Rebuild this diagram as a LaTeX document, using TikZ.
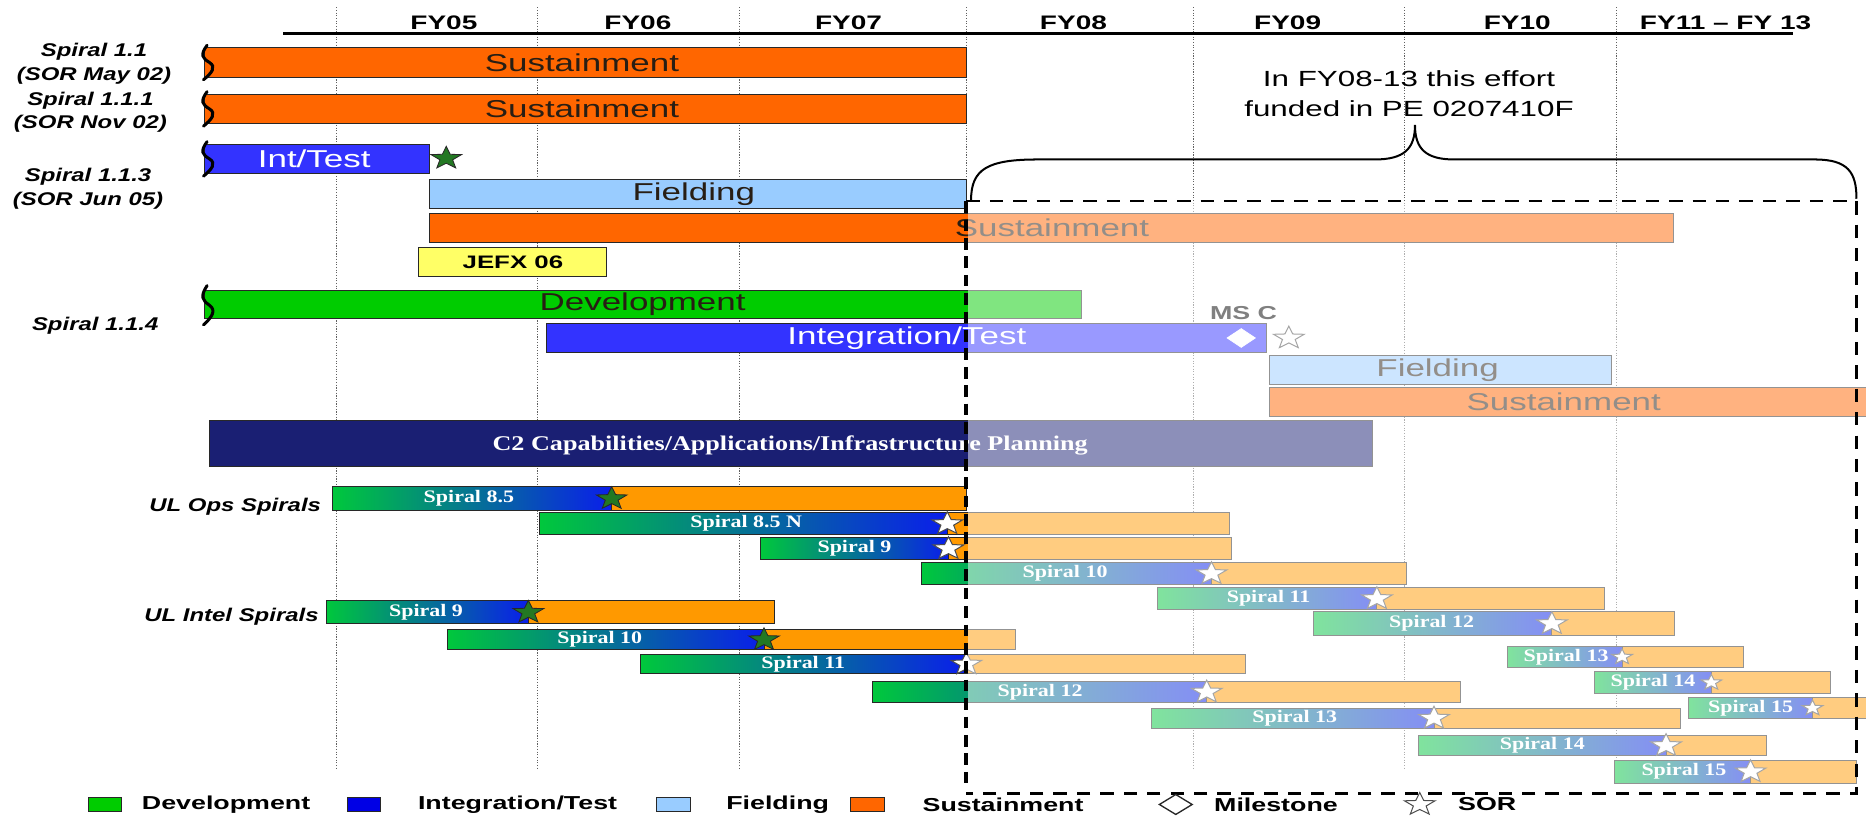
\documentclass[tikz,border=0pt]{standalone}
\usepackage{fontspec}
\setmainfont{Liberation Sans}[FakeStretch=1.43]
\newfontfamily\tnr{Liberation Serif}[FakeStretch=1.25]
\newfontfamily\lab{Liberation Sans}[FakeStretch=1.3]
\usetikzlibrary{shapes.geometric}

\definecolor{sus}{RGB}{255,102,0}
\definecolor{sor}{RGB}{255,153,0}
\definecolor{itb}{RGB}{51,51,255}
\definecolor{fld}{RGB}{153,204,255}
\definecolor{dev}{RGB}{0,204,0}
\definecolor{jef}{RGB}{255,255,102}
\definecolor{nav}{RGB}{26,31,115}
\definecolor{gL}{RGB}{0,200,60}
\definecolor{gR}{RGB}{10,30,235}
\definecolor{stg}{RGB}{35,120,35}
\definecolor{bln}{RGB}{40,40,40}
\definecolor{txd}{RGB}{40,30,20}

\tikzset{
 barbox/.style={draw=bln, line width=0.6pt},
 bartext/.style={font=\fontsize{14.6}{16}\selectfont, inner sep=0pt},
 fylab/.style={font=\bfseries\fontsize{11.7}{13}\selectfont, inner sep=0pt},
 leftlab/.style={font=\lab\bfseries\itshape\fontsize{11}{14}\selectfont, align=center, inner sep=0pt},
 spl/.style={font=\tnr\bfseries\fontsize{10.5}{12}\selectfont, text=white, inner sep=0pt},
 gstar/.style={star, star points=5, star point ratio=2.4, fill=stg, draw=bln, line width=0.5pt, minimum size=0.5cm, inner sep=0pt},
 wstar/.style={star, star points=5, star point ratio=2.4, fill=white, draw=gray!60!black, line width=0.6pt, minimum size=0.5cm, inner sep=0pt},
 gridln/.style={gray!75!black, line width=0.6pt, dash pattern=on 0.7pt off 0.9pt},
 squig/.style={line width=1.8pt, line cap=round},
 legtext/.style={font=\bfseries\fontsize{11.2}{13}\selectfont, anchor=west, inner sep=0pt},
 legbox/.style={draw=bln, line width=0.6pt, minimum width=0.7cm, minimum height=0.275cm, inner sep=0pt},
 dbox/.style={line width=1.6pt, dash pattern=on 8pt off 6pt},
 dvert/.style={line width=2.2pt, dash pattern=on 7pt off 4pt},
 bracepath/.style={line width=1.2pt},
}

\newcommand{\starat}[4]{\begin{scope}[shift={(#1,#2)}]\node[#3, xscale=1.35, transform shape] (#4) at (0,0) {};\end{scope}}
\newcommand{\squigat}[2]{\draw[squig] (174,{#1-2}) .. controls (168,{#1+0.25*(#2-#1)}) and (170,{#1+0.35*(#2-#1)}) .. (176,{#1+0.5*(#2-#1)}) .. controls (182,{#1+0.65*(#2-#1)}) and (178,{#1+0.85*(#2-#1)}) .. (171,{#2+2});}
\newcommand{\srow}[9]{%
 \draw[barbox, left color=gL, right color=gR] (#4,#2) rectangle (#5,#3);
 \draw[barbox, fill=sor] (#5,#2) rectangle (#6,#3);
 \node[spl] (#1) at (#7,{(#2+#3)/2}) {#8};
 \starat{#5}{{(#2+#3)/2}}{#9}{#1s}%
}

\begin{document}
\begin{tikzpicture}[x=0.025cm, y=-0.025cm]
\useasboundingbox (0,0) rectangle (1568,687);

% grid lines
\foreach \gx in {283,452,621,1003,1180,1358} \draw[gridln] (\gx,6) -- (\gx,647);
\draw[gridln] (812,6) -- (812,169);

% header
\draw[line width=1.8pt] (238,28) -- (1507,28);
\node[fylab] (fy05) at (373,19) {FY05};
\node[fylab] (fy06) at (536,19) {FY06};
\node[fylab] (fy07) at (713,19) {FY07};
\node[fylab] (fy08) at (902,19) {FY08};
\node[fylab] (fy09) at (1082,19) {FY09};
\node[fylab] (fy10) at (1275,19) {FY10};
\node[fylab] (fy11) at (1450,19) {FY11 -- FY 13};

% left labels
\node[leftlab] (l11) at (79,53.5) {Spiral 1.1\\(SOR May 02)};
\node[leftlab] (l111) at (76,94.5) {Spiral 1.1.1\\(SOR Nov 02)};
\node[leftlab] (l113) at (74,158.5) {Spiral 1.1.3\\(SOR Jun 05)};
\node[leftlab] (l114) at (80,274) {Spiral 1.1.4};
\node[leftlab, anchor=east] (lops) at (270,426) {UL Ops Spirals};
\node[leftlab, anchor=east] (lint) at (268,518) {UL Intel Spirals};

% top bars
\draw[barbox, fill=sus] (172,40) rectangle (812,65);
\node[bartext, text=txd] (s1) at (489,52.5) {Sustainment};
\squigat{40}{65}
\draw[barbox, fill=sus] (172,79) rectangle (812,104);
\node[bartext, text=txd] (s2) at (489,91.5) {Sustainment};
\squigat{79}{104}
\draw[barbox, fill=itb] (172,121) rectangle (361,146);
\node[bartext, text=white] (it1) at (264,133.5) {Int/Test};
\squigat{121}{146}
\starat{375}{133}{gstar}{it1s}

\draw[barbox, fill=fld] (361,151) rectangle (812,175);
\node[bartext, text=txd] (f1) at (583,163) {Fielding};
\draw[barbox, fill=sus] (361,179) rectangle (1406,204);
\node[bartext, text=txd] (s3) at (884,191.5) {Sustainment};
\draw[barbox, fill=jef] (352,208) rectangle (510,232);
\node[font=\bfseries\fontsize{10.8}{12}\selectfont, inner sep=0pt] (jefx) at (431,220) {JEFX 06};

\draw[barbox, fill=dev] (172,244) rectangle (909,268);
\node[bartext, text=txd] (dv) at (540,256) {Development};
\squigat{242}{271}
\draw[barbox, fill=itb] (459,272) rectangle (1064,296);
\node[bartext, text=white] (it2) at (762,284) {Integration/Test};
\node[diamond, fill=white, draw=white, minimum width=0.6cm, minimum height=0.4cm, inner sep=0pt] (msd) at (1043,284) {};
\node[font=\bfseries\fontsize{11.2}{13}\selectfont, inner sep=0pt] (msc) at (1045,263) {MS C};
\starat{1083}{284}{wstar}{mss}
\draw[barbox, fill=fld] (1067,299) rectangle (1354,323);
\node[bartext, text=txd] (f2) at (1208,311) {Fielding};
\draw[barbox, fill=sus] (1067,326) rectangle (1572,350);
\node[bartext, text=txd] (s4) at (1314,338) {Sustainment};

\draw[barbox, fill=nav] (176,353) rectangle (1153,392);
\node[font=\tnr\bfseries\fontsize{12.5}{14}\selectfont, text=white, inner sep=0pt] (c2) at (664,374) {C2 Capabilities/Applications/Infrastructure Planning};

% spiral rows
\srow{o1}{409}{429}{279}{514}{812}{394}{Spiral 8.5}{gstar}
\srow{o2}{431}{449}{453}{796}{1033}{627}{Spiral 8.5 N}{wstar}
\srow{o3}{452}{470}{639}{797}{1035}{718}{Spiral 9}{wstar}
\srow{o4}{473}{491}{774}{1018}{1182}{895}{Spiral 10}{wstar}
\srow{o5}{494}{512}{973}{1157}{1348}{1066}{Spiral 11}{wstar}
\srow{o6}{514}{534}{1104}{1304}{1407}{1203}{Spiral 12}{wstar}
\srow{o7}{543}{561}{1267}{1363}{1465}{1316}{Spiral 13}{wstar, minimum size=0.34cm}
\srow{o8}{564}{583}{1340}{1438}{1538}{1389}{Spiral 14}{wstar, minimum size=0.34cm}
\srow{o9}{586}{604}{1419}{1523}{1572}{1471}{Spiral 15}{wstar, minimum size=0.34cm}
\srow{i1}{505}{524}{274}{444}{651}{358}{Spiral 9}{gstar}
\srow{i2}{529}{546}{376}{642}{853}{504}{Spiral 10}{gstar}
\srow{i3}{550}{566}{538}{812}{1047}{675}{Spiral 11}{wstar}
\srow{i4}{573}{590}{733}{1014}{1227}{874}{Spiral 12}{wstar}
\srow{i5}{595}{612}{968}{1205}{1412}{1088}{Spiral 13}{wstar}
\srow{i6}{618}{635}{1192}{1400}{1484}{1296}{Spiral 14}{wstar}
\srow{i7}{639}{658}{1357}{1471}{1560}{1415}{Spiral 15}{wstar}

% fade of FY08-13 region
\fill[white, opacity=0.5] (813,170) rectangle (1572,664);

% dashed box and brace
\draw[dbox] (812,169) -- (1560,169) -- (1560,667) -- (812,667);
\draw[dvert] (812,169) -- (812,662);
\draw[bracepath] (816,168) .. controls (816,142) and (830,134) .. (872,134) -- (1155,134) .. controls (1180,134) and (1189,125) .. (1189,105) .. controls (1189,125) and (1198,134) .. (1222,134) -- (1525,134) .. controls (1553,134) and (1560,145) .. (1560,167);
\node[font=\fontsize{13.1}{15}\selectfont, inner sep=0pt, align=center] (note) at (1184,79) {In FY08-13 this effort\\[3pt]funded in PE 0207410F};

% legend
\node[legbox, fill=dev] (lg1) at (88,676) {};
\node[legtext] (lt1) at (119,676) {Development};
\node[legbox, fill=blue!90!black] (lg2) at (306,676) {};
\node[legtext] (lt2) at (351,676) {Integration/Test};
\node[legbox, fill=fld] (lg3) at (566,676) {};
\node[legtext] (lt3) at (610,676) {Fielding};
\node[legbox, fill=sus] (lg4) at (729,676) {};
\node[legtext] (lt4) at (775,676) {Sustainment};
\node[diamond, draw=bln, line width=0.8pt, fill=white, minimum width=0.7cm, minimum height=0.43cm, inner sep=0pt] (lg5) at (988,676) {};
\node[legtext] (lt5) at (1020,676) {Milestone};
\starat{1193}{676}{wstar}{lg6}
\node[legtext] (lt6) at (1225,676) {SOR};
\end{tikzpicture}
\end{document}
